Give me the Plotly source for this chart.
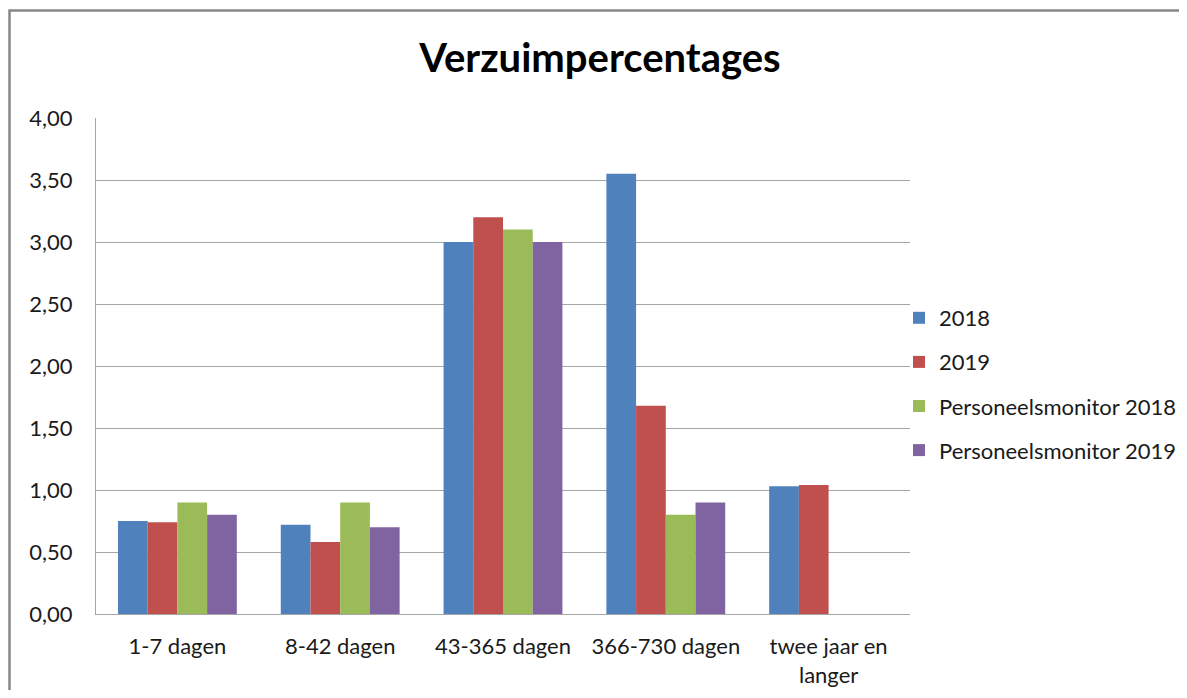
import plotly.graph_objects as go

categories = ["1-7 dagen", "8-42 dagen", "43-365 dagen", "366-730 dagen", "twee jaar en<br>langer"]
series_names = ["2018", "2019", "Personeelsmonitor 2018", "Personeelsmonitor 2019"]
v2018 = [0.75, 0.72, 3.00, 3.55, 1.03]
v2019 = [0.74, 0.58, 3.20, 1.68, 1.04]
pm2018 = [0.90, 0.90, 3.10, 0.80, None]
pm2019 = [0.80, 0.70, 3.00, 0.90, None]
colors = ["#4F81BD", "#C0504D", "#9BBB59", "#8064A2"]

# page body has an 8px margin; work in figure coordinates (page - 8)
OFF = 8
W, H = 1187 - OFF, 698 - 2 * OFF
L, R, T, B = 96 - OFF, 910 - OFF, 118 - OFF, 614 - OFF

fig = go.Figure()
for name, vals, col in zip(series_names, [v2018, v2019, pm2018, pm2019], colors):
    fig.add_trace(go.Bar(x=categories, y=vals, name=name, legendgroup=name,
                         marker=dict(color=col, line=dict(width=0))))

font = "Lato, 'Open Sans', sans-serif"
fig.update_layout(
    width=W, height=H,
    margin=dict(l=L, r=W - R, t=T, b=H - B, pad=0, autoexpand=False),
    paper_bgcolor="white", plot_bgcolor="white",
    separators=",.",
    barmode="group", bargap=0.27, bargroupgap=0,
    font=dict(family=font, size=22, color="#1a1a1a"),
    title=dict(text="<b>Verzuimpercentages</b>", x=(600 - OFF) / W, xanchor="center",
               y=1 - (58 - OFF) / H, yanchor="middle", yref="container",
               font=dict(family=font, size=40, color="#000000")),
    legend=dict(x=(899 - 96) / 814, xanchor="left", y=(614 - 384) / 496, yanchor="middle",
                font=dict(family=font, size=22, color="#1a1a1a"), tracegroupgap=12.5,
                itemwidth=30, bgcolor="rgba(0,0,0,0)"),
    showlegend=True,
)
fig.update_yaxes(range=[0, 4], dtick=0.5, tickformat=".2f", showgrid=True,
                 gridcolor="#a6a6a6", gridwidth=1, showline=True, linecolor="#a6a6a6",
                 linewidth=1, ticks="outside", ticklen=18, tickcolor="rgba(0,0,0,0)",
                 zeroline=False, fixedrange=True, automargin=False)
fig.update_xaxes(showline=True, linecolor="#a6a6a6", linewidth=1, ticks="outside",
                 ticklen=13, tickcolor="rgba(0,0,0,0)", showgrid=False, fixedrange=True,
                 automargin=False)

# outer chart frame
fig.add_shape(type="rect", xref="paper", yref="paper",
              x0=(9.5 - 96) / 814, x1=1.5, y0=-0.5, y1=(614 - 10.5) / 496,
              line=dict(color="#878787", width=2.5), fillcolor="rgba(0,0,0,0)", layer="below")

fig.write_html("out.html", config={"displayModeBar": False})
